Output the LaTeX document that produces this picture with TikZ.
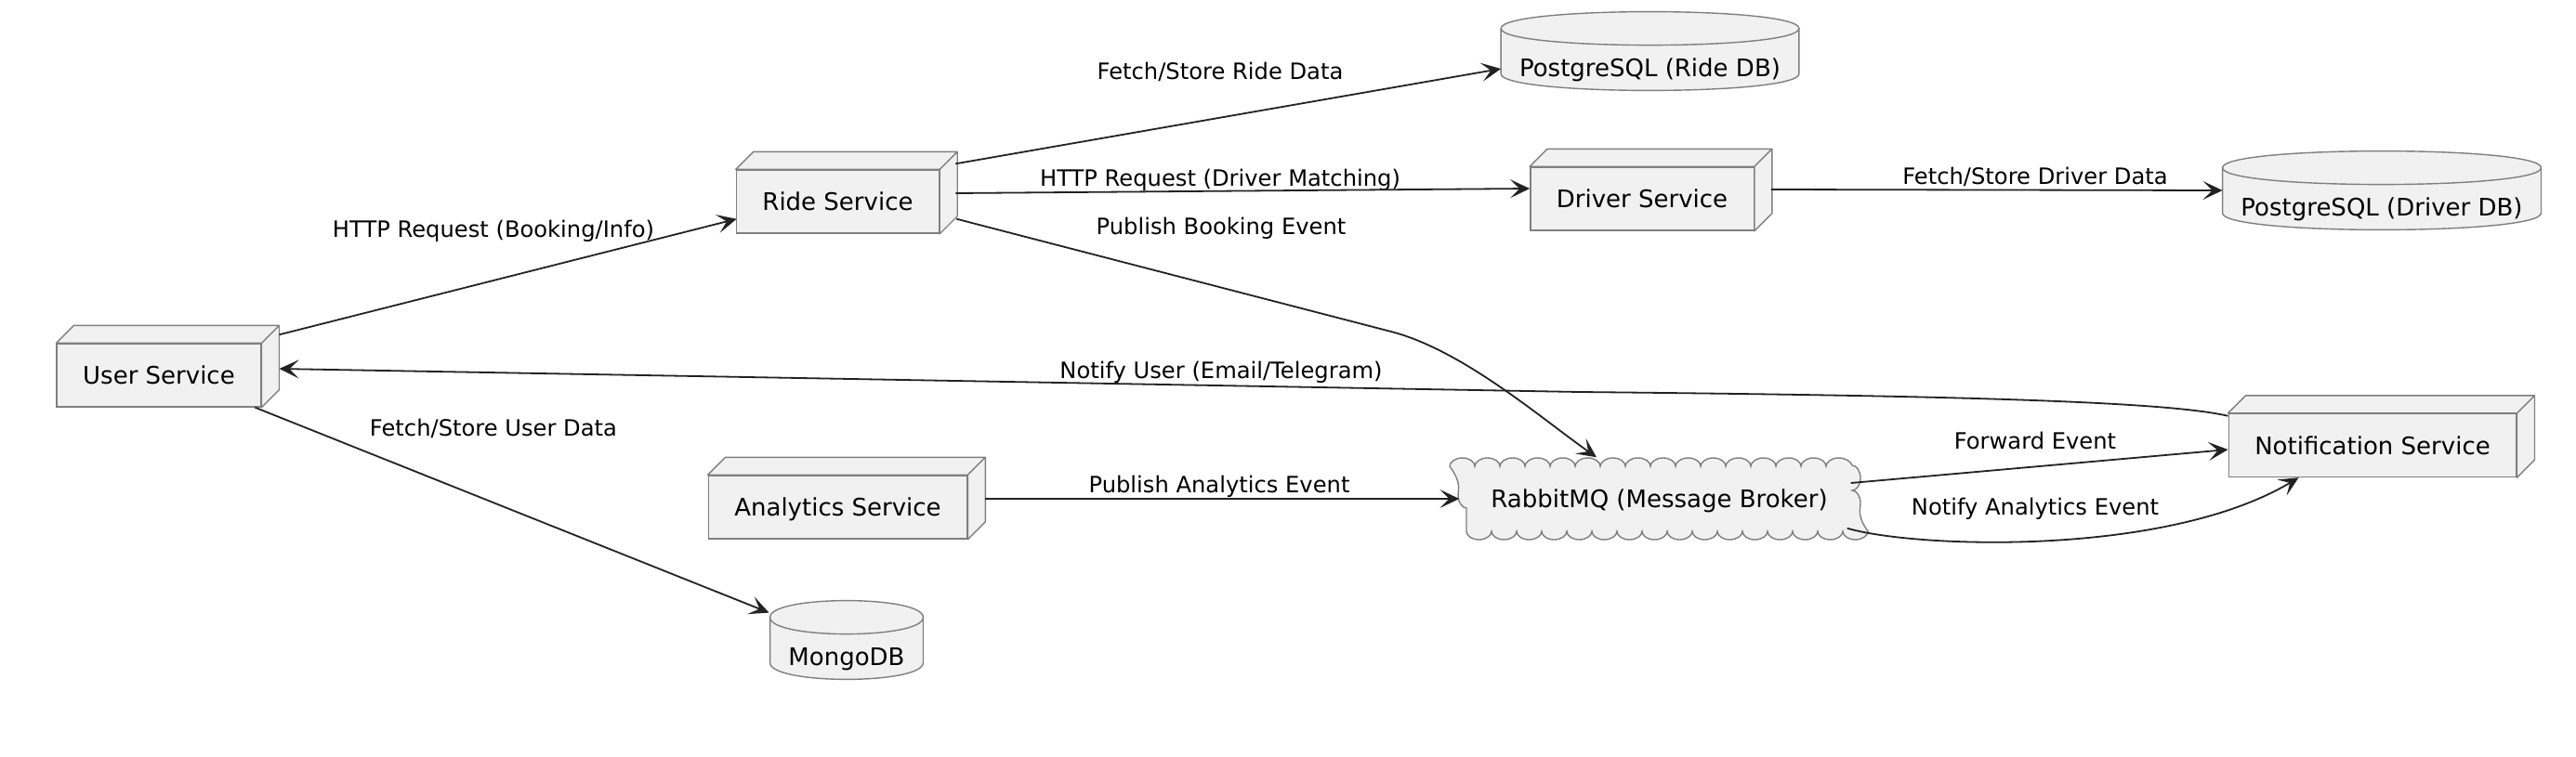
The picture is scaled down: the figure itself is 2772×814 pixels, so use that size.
\documentclass[tikz,border=0pt]{standalone}
\usepackage{fontspec}
\setmainfont{DejaVu Sans}
\usetikzlibrary{arrows.meta,decorations.pathmorphing,backgrounds}
\definecolor{boxfill}{HTML}{F1F1F1}
\definecolor{boxline}{HTML}{7F7F7F}
\definecolor{wire}{HTML}{222222}
\begin{document}
\begin{tikzpicture}[x=0.5pt,y=-0.5pt,
    svc/.style={rectangle, draw=boxline, fill=boxfill, line width=0.7pt, minimum height=34pt,
      inner xsep=14pt, inner ysep=0pt, text height=9.5pt, text depth=0pt, font=\fontsize{13}{15}\selectfont},
    boxface/.style={draw=boxline, fill=boxfill, line width=0.7pt, line join=round},
    store/.style={rectangle, inner xsep=9.75pt, inner ysep=0pt, text height=34.5pt, text depth=7.5pt,
      font=\fontsize{13}{15}\selectfont},
    storeline/.style={draw=boxline, fill=boxfill, line width=0.7pt},
    broker/.style={rectangle, draw=boxline, fill=boxfill, line width=0.7pt, minimum width=207.5pt,
      minimum height=35pt, text height=9.5pt, text depth=0pt, font=\fontsize{13}{15}\selectfont,
      decorate, decoration={bumps, mirror, segment length=27pt, amplitude=4.5pt}},
    lbl/.style={inner sep=0pt, text height=8.8pt, text depth=0pt, font=\fontsize{12.1}{14}\selectfont},
    link/.style={draw=wire, line width=0.9pt, -{Stealth[length=10.5pt,width=10pt,inset=5pt]}}]
  \useasboundingbox (0,0) rectangle (2772,814);
  % services
  \node[svc] (user) at (171,404) {User Service};
  \node[svc] (ride) at (901.5,217) {Ride Service};
  \node[svc] (driver) at (1767,214) {Driver Service};
  \node[svc] (analytics) at (901.5,546) {Analytics Service};
  \node[svc] (notif) at (2553,479.5) {Notification Service};
  \foreach \n in {user,ride,driver,analytics,notif}{
    \filldraw[boxface] (\n.north west) -- ++(19,-19) -- ([shift={(19,-19)}]\n.north east)
      -- ([shift={(19,-19)}]\n.south east) -- (\n.south east) -- (\n.north east) -- cycle
      (\n.north east) -- ++(19,-19);
  }
  % databases and broker
  \node[store] (ridedb) at (1775.5,55) {PostgreSQL (Ride DB)};
  \node[store] (driverdb) at (2563,205) {PostgreSQL (Driver DB)};
  \node[store] (mongo) at (911,689) {MongoDB};
  \begin{scope}[on background layer]
    \foreach \d in {ridedb,driverdb,mongo}{
      \filldraw[storeline] ([yshift=-9pt]\d.north west) -- ([yshift=9pt]\d.south west)
        .. controls ([yshift=-3pt]\d.south west) and ([yshift=-3pt]\d.south east) .. ([yshift=9pt]\d.south east)
        -- ([yshift=-9pt]\d.north east)
        .. controls ([yshift=3pt]\d.north east) and ([yshift=3pt]\d.north west) .. cycle;
      \draw[storeline, fill=none] ([yshift=-9pt]\d.north west)
        .. controls ([yshift=-21pt]\d.north west) and ([yshift=-21pt]\d.north east) .. ([yshift=-9pt]\d.north east);
    }
  \end{scope}
  \node[broker] (mq) at (1785.5,537) {RabbitMQ (Message Broker)};
  % labels
  \node[lbl] (lbook) at (531,247) {HTTP Request (Booking/Info)};
  \node[lbl] (luser) at (531,461) {Fetch/Store User Data};
  \node[lbl] (lride) at (1313,77) {Fetch/Store Ride Data};
  \node[lbl] (lmatch) at (1313,192) {HTTP Request (Driver Matching)};
  \node[lbl] (lpub) at (1314,244) {Publish Booking Event};
  \node[lbl] (lnotify) at (1314,399) {Notify User (Email/Telegram)};
  \node[lbl] (lstats) at (1312,522) {Publish Analytics Event};
  \node[lbl] (ldriver) at (2190,190) {Fetch/Store Driver Data};
  \node[lbl] (lfwd) at (2190,475) {Forward Event};
  \node[lbl] (lnotstats) at (2190,546) {Notify Analytics Event};
  % connectors
  \draw[link] ([shift={(19,-9)}]user.north east) -- ([shift={(1,-16)}]ride.south west);
  \draw[link] ([shift={(-7,0)}]user.south east) -- ([shift={(-1,13)}]mongo.north west);
  \draw[link] ([shift={(17,-6)}]ride.north east) -- ([shift={(0,19)}]ridedb.west);
  \draw[link] ([shift={(17,-9)}]ride.east) -- ([shift={(0,-11)}]driver.west);
  \draw[link] ([shift={(18,-16)}]ride.south east) -- (1497,357)
    .. controls (1574,377) and (1658,450) .. ([shift={(-67.5,-9)}]mq.north);
  \draw[link] ([shift={(18,-10)}]driver.east) -- (driverdb.west);
  \draw[link] ([shift={(0,3)}]notif.north west) .. controls (2330,432) and (2100,426) .. (1700,422)
    -- ([shift={(19,-7)}]user.east);
  \draw[link] ([shift={(19,-9)}]analytics.east) -- ([shift={(-7,0)}]mq.west);
  \draw[link] ([shift={(-2,-17)}]mq.east) -- ([shift={(0,4.5)}]notif.west);
  \draw[link] ([shift={(-6,-4)}]mq.south east) .. controls (2060,590) and (2330,600)
    .. ([shift={(76,0)}]notif.south west);
\end{tikzpicture}
\end{document}
